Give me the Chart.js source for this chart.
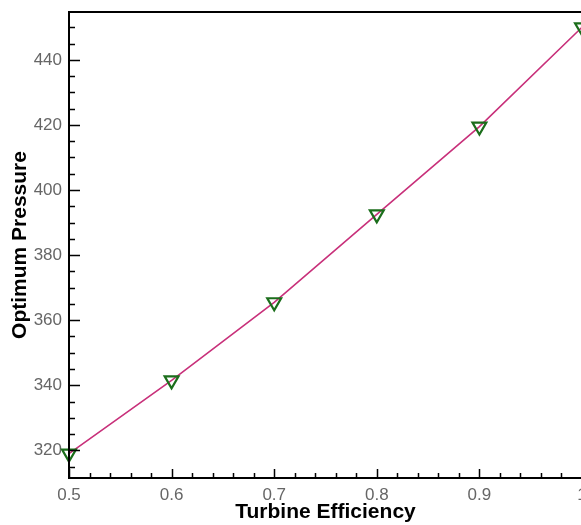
<!DOCTYPE html>
<html lang="en">
<head>
  <meta charset="UTF-8" />
  <title>Optimum Pressure vs Turbine Efficiency</title>
  <script src="https://cdn.jsdelivr.net/npm/chart.js"></script>
  <style>
    html, body { margin: 0; padding: 0; overflow: hidden; background: #fff; }
    canvas { display: block; }
  </style>
</head>
<body>
  <canvas id="chart" width="600" height="525"></canvas>

  <script>
    // data
    const efficiency = [0.5, 0.6, 0.7, 0.8, 0.9, 1.0];
    const pressure = [319, 341.5, 365.5, 392.5, 419.5, 450];

    const xTicks = [0.5, 0.6, 0.7, 0.8, 0.9, 1.0];
    const yTicks = [320, 340, 360, 380, 400, 420, 440];

    // inward major/minor ticks and the frame, drawn on the chart's scales
    const frameTicks = {
      id: 'frameTicks',
      afterDraw(chart) {
        const { ctx, chartArea: a, scales: { x, y } } = chart;
        ctx.save();
        ctx.strokeStyle = '#000';
        ctx.beginPath();
        ctx.lineWidth = 1.5;
        for (let i = 0; i <= 25; i++) {
          const v = 0.5 + i * 0.02;
          const px = Math.round(x.getPixelForValue(v)) + 0.5;
          const len = i % 5 === 0 ? 9 : 5;
          ctx.moveTo(px, a.bottom);
          ctx.lineTo(px, a.bottom - len);
        }
        for (let v = 315; v <= 450; v += 5) {
          const py = Math.round(y.getPixelForValue(v)) + 0.5;
          const len = v % 20 === 0 ? 11 : 6;
          ctx.moveTo(a.left, py);
          ctx.lineTo(a.left + len, py);
        }
        ctx.stroke();
        ctx.lineWidth = 2;
        ctx.strokeRect(a.left, a.top, a.right - a.left, a.bottom - a.top);
        ctx.restore();
      }
    };

    new Chart(document.getElementById('chart'), {
      type: 'line',
      data: {
        datasets: [{
          data: efficiency.map((e, i) => ({ x: e, y: pressure[i] })),
          borderColor: '#c8307a',
          borderWidth: 1.6,
          pointStyle: 'triangle',
          rotation: 180,
          radius: 8,
          pointBorderColor: '#1b6e1b',
          pointBorderWidth: 2.2,
          pointBackgroundColor: 'rgba(0,0,0,0)',
          clip: false,
          tension: 0
        }]
      },
      options: {
        responsive: false,
        animation: false,
        layout: { padding: { top: 12, right: 18, left: 0, bottom: 0 } },
        plugins: { legend: { display: false }, tooltip: { enabled: false } },
        scales: {
          x: {
            type: 'linear',
            min: 0.5,
            max: 1.0,
            afterBuildTicks: s => { s.ticks = xTicks.map(v => ({ value: v })); },
            afterFit: s => { s.height = 47; },
            grid: { display: false, drawTicks: false },
            border: { display: false },
            ticks: {
              padding: 7,
              color: '#666',
              font: { family: 'Liberation Sans', size: 17 },
              callback: v => String(v)
            },
            title: {
              display: true,
              text: 'Turbine Efficiency',
              color: '#000',
              padding: 0,
              font: { family: 'Liberation Sans', size: 21, weight: 'bold' }
            }
          },
          y: {
            type: 'linear',
            min: 311.5,
            max: 454.7,
            afterBuildTicks: s => { s.ticks = yTicks.map(v => ({ value: v })); },
            afterFit: s => { s.width = 69; s.paddingTop = 0; s.paddingBottom = 0; },
            grid: { display: false, drawTicks: false },
            border: { display: false },
            ticks: {
              padding: 7,
              color: '#666',
              font: { family: 'Liberation Sans', size: 17 }
            },
            title: {
              display: true,
              text: 'Optimum Pressure',
              color: '#000',
              padding: { top: 8, bottom: 0 },
              font: { family: 'Liberation Sans', size: 21, weight: 'bold' }
            }
          }
        }
      },
      plugins: [frameTicks]
    });
  </script>
</body>
</html>
